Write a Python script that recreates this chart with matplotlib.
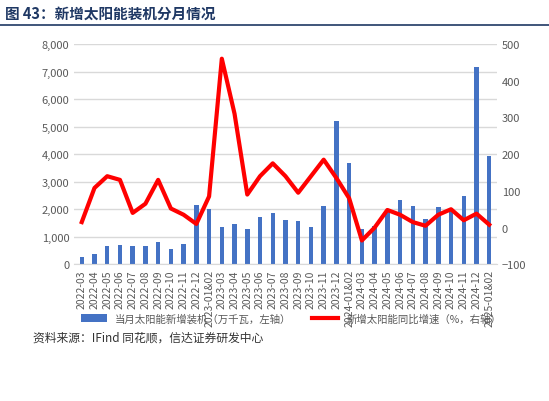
import matplotlib
matplotlib.use("Agg")
import matplotlib.pyplot as plt
import numpy as np

plt.rcParams['font.family'] = ['Noto Sans CJK SC', 'DejaVu Sans']

months = ["2022-03","2022-04","2022-05","2022-06","2022-07","2022-08","2022-09","2022-10","2022-11","2022-12",
          "2023-01&02","2023-03","2023-04","2023-05","2023-06","2023-07","2023-08","2023-09","2023-10","2023-11","2023-12",
          "2024-01&02","2024-03","2024-04","2024-05","2024-06","2024-07","2024-08","2024-09","2024-10","2024-11","2024-12",
          "2025-01&02"]
capacity = [250,370,680,710,680,670,800,560,720,2160,
            2000,1340,1450,1280,1730,1870,1600,1580,1370,2130,5200,
            3670,1300,1380,1890,2330,2100,1640,2080,2050,2480,7150,
            3950]
yoy = [15,108,140,130,40,65,130,52,35,10,
       85,460,310,90,140,175,140,95,140,185,135,
       80,-35,0,48,35,15,5,35,50,20,38,
       8]

fig = plt.figure(figsize=(5.49,4.02), dpi=100)
ax = fig.add_axes([0.135, 0.34, 0.77, 0.548])
x = np.arange(len(months))
ax.bar(x, capacity, width=0.35, color='#4472C4', label='当月太阳能新增装机（万千瓦，左轴）')
ax.set_ylim(0, 8000)
ax.set_yticks(range(0, 8001, 1000))
ax.set_yticklabels([f"{v:,}" for v in range(0, 8001, 1000)])
ax.grid(axis='y', color='#d9d9d9', lw=1)
ax.set_axisbelow(True)
ax.set_xlim(-0.6, len(months)-0.4)
ax.set_xticks(x)
ax.set_xticklabels(months, rotation=90, fontsize=7.5, color='#595959')
ax2 = ax.twinx()
ax2.plot(x, yoy, color='#ff0000', lw=3, label='新增太阳能同比增速（%，右轴）')
ax2.set_ylim(-100, 500)
ax2.set_yticks(range(-100, 501, 100))
for a in (ax, ax2):
    for s in a.spines.values():
        s.set_visible(False)
    a.tick_params(length=0, labelsize=8, colors='#595959')
ax.tick_params(axis='x', labelsize=7.5)
ax.spines['bottom'].set_visible(True)
ax.spines['bottom'].set_color('#d9d9d9')

h1, l1 = ax.get_legend_handles_labels()
h2, l2 = ax2.get_legend_handles_labels()
fig.legend(h1+h2, l1+l2, loc='center', bbox_to_anchor=(0.53, 0.205), ncol=2, frameon=False,
           fontsize=7.5, labelcolor='#595959', handlelength=2.5, columnspacing=2)

fig.text(0.01, 0.965, "图 43：新增太阳能装机分月情况", fontsize=10.5, fontweight='bold', color='#1f3864', va='center')
fig.add_artist(plt.Line2D([0.0, 1.0], [0.935, 0.935], color='#1f3864', lw=1.2))
fig.text(0.06, 0.16, "资料来源：IFind 同花顺，信达证券研发中心", fontsize=8.5, style='italic', color='#333333', va='center')
fig.savefig("out.png", dpi=100)
